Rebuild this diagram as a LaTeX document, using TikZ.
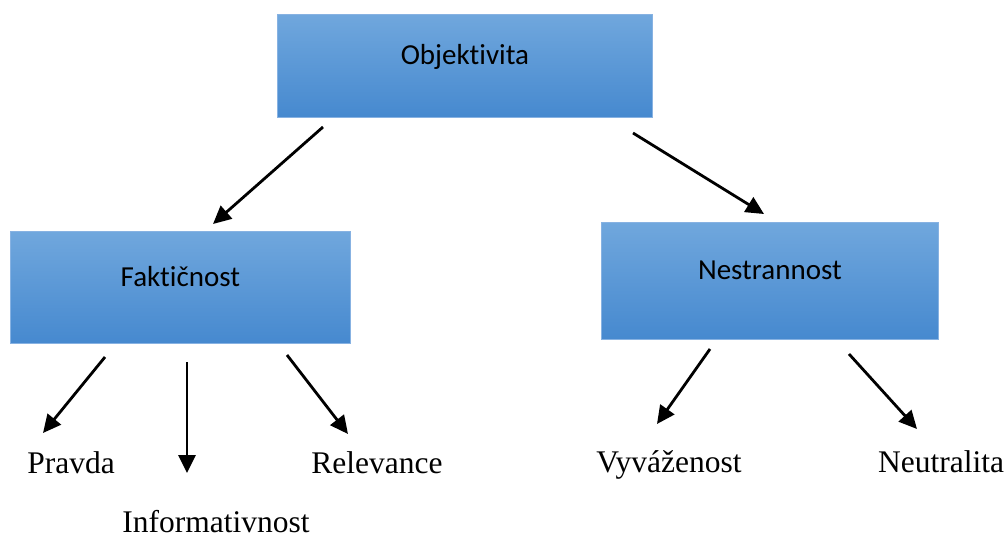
\documentclass[tikz,border=0pt]{standalone}
\usepackage{fontspec}
\setmainfont{Liberation Serif}
\newfontfamily\boxfont[Ligatures={NoCommon,NoDiscretionary,NoContextual}]{Carlito}
\usetikzlibrary{arrows.meta}
\definecolor{boxtop}{RGB}{112,167,221}
\definecolor{boxbot}{RGB}{70,137,207}
\definecolor{boxedge}{RGB}{135,178,226}
\tikzset{
  bluebox/.style={draw=boxedge, line width=0.8pt, top color=boxtop, bottom color=boxbot,
    inner sep=0pt, align=center, font=\boxfont\fontsize{29}{34}\selectfont},
  leaf/.style={anchor=base, inner sep=0pt, font=\fontsize{31.5}{36}\selectfont},
  arr/.style={line width=2.8pt, -{Triangle[length=18pt,width=17pt]}},
}
\begin{document}
\begin{tikzpicture}[x=1pt,y=-1pt]
\useasboundingbox (0,0) rectangle (1006,538);
% boxes
\node[bluebox, anchor=north west, text width=375pt, text height=50pt, text depth=53pt] (obj) at (277,14) {Objektivita};
\node[bluebox, anchor=north west, text width=340pt, text height=55pt, text depth=57pt] (fak) at (10,231) {Faktičnost};
\node[bluebox, anchor=north west, text width=337pt, text height=57pt, text depth=60pt] (nes) at (601,222) {Nestrannost};
% leaves
\node[leaf] (pra) at (71,473) {Pravda};
\node[leaf] (inf) at (216,532) {Informativnost};
\node[leaf] (rel) at (377,473) {Relevance};
\node[leaf] (vyv) at (669,472) {Vyváženost};
\node[leaf] (neu) at (941,472) {Neutralita};
% arrow ends
\coordinate (a1s) at (323,127); \coordinate (a1e) at (213,224);
\coordinate (a2s) at (633,133); \coordinate (a2e) at (764,214);
\coordinate (f1s) at (105,357); \coordinate (f1e) at (43,433);
\coordinate (f2s) at (187,362); \coordinate (f2e) at (187,473);
\coordinate (f3s) at (287,355); \coordinate (f3e) at (348,434);
\coordinate (n1s) at (710,349); \coordinate (n1e) at (657,424);
\coordinate (n2s) at (849,354); \coordinate (n2e) at (917,429);
\draw[arr] (a1s) -- (a1e);
\draw[arr] (a2s) -- (a2e);
\draw[arr] (f1s) -- (f1e);
\draw[arr] (f2s) -- (f2e);
\draw[arr] (f3s) -- (f3e);
\draw[arr] (n1s) -- (n1e);
\draw[arr] (n2s) -- (n2e);
\end{tikzpicture}
\end{document}
